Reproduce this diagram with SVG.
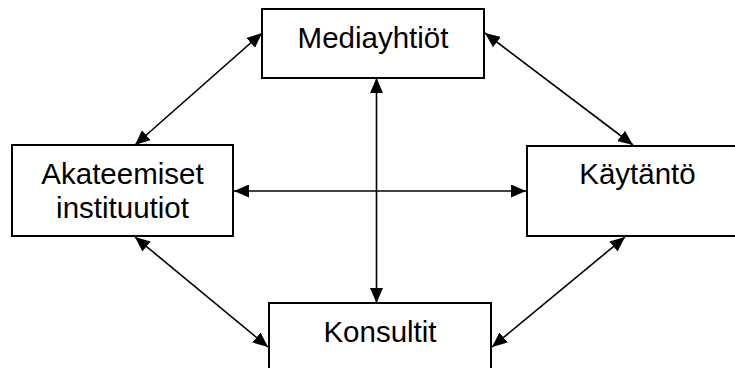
<svg xmlns="http://www.w3.org/2000/svg" width="735" height="368" viewBox="0 0 735 368">
  <style>
    .box { fill: #ffffff; stroke: #000000; stroke-width: 2; }
    .lbl { font-family: "Liberation Sans", Arial, sans-serif; font-size: 29.5px; fill: #000000; text-anchor: middle; }
    .link { stroke: #000000; stroke-width: 1.6; fill: none; marker-start: url(#head); marker-end: url(#head); }
  </style>
  <defs>
    <marker id="head" viewBox="0 0 15 13" markerWidth="15" markerHeight="13" refX="15" refY="6.5" orient="auto-start-reverse" markerUnits="userSpaceOnUse">
      <path d="M0,0 L15,6.5 L0,13 z" fill="#000000"/>
    </marker>
  </defs>
  <rect width="735" height="368" fill="#ffffff"/>

  <g id="connectors">
    <line class="link" x1="135" y1="145" x2="262" y2="33"/>
    <line class="link" x1="485" y1="33" x2="633" y2="145"/>
    <line class="link" x1="135" y1="237" x2="268" y2="347"/>
    <line class="link" x1="625" y1="237" x2="492" y2="347"/>
    <line class="link" x1="376.5" y1="78" x2="376.5" y2="303"/>
    <line class="link" x1="234" y1="191" x2="526" y2="191"/>
  </g>

  <g id="mediayhtiot">
    <rect class="box" x="262" y="9" width="222" height="69"/>
    <text class="lbl" x="373" y="48">Mediayhtiöt</text>
  </g>

  <g id="akateemiset">
    <rect class="box" x="12" y="145" width="221" height="91"/>
    <text class="lbl" x="122.5" y="184">Akateemiset</text>
    <text class="lbl" x="122.5" y="218">instituutiot</text>
  </g>

  <g id="kaytanto">
    <rect class="box" x="527" y="146" width="222" height="90"/>
    <text class="lbl" x="637.5" y="184">Käytäntö</text>
  </g>

  <g id="konsultit">
    <rect class="box" x="269" y="303" width="222" height="80"/>
    <text class="lbl" x="380" y="342">Konsultit</text>
  </g>
</svg>
